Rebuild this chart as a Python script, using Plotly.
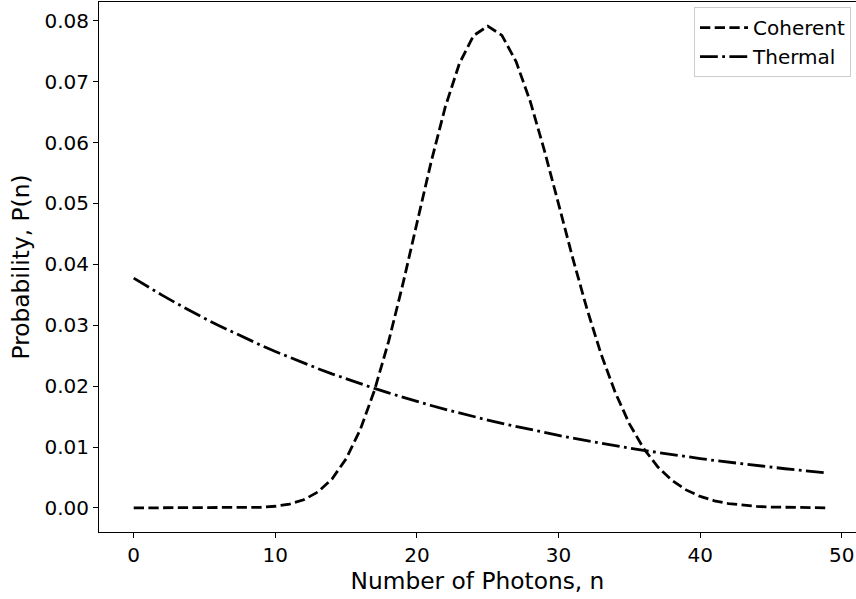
import plotly.graph_objects as go

n_photons = list(range(50))

coherent = [
    0.0, 0.0, 0.0, 0.0, 0.0000001, 0.0000008, 0.0000032, 0.0000117, 0.0000374, 0.000106,
    0.000270, 0.000626, 0.001329, 0.002607, 0.004749, 0.008074, 0.012868, 0.019302, 0.027344, 0.036699,
    0.046791, 0.056818, 0.065857, 0.073016, 0.077580, 0.079132, 0.077610, 0.073298, 0.066753, 0.058697,
    0.049892, 0.041040, 0.032704, 0.025271, 0.018953, 0.013809, 0.009781, 0.006741, 0.004524, 0.002958,
    0.001886, 0.001173, 0.000712, 0.000422, 0.000245, 0.000139, 0.0000770, 0.0000418, 0.0000222, 0.0000116,
]

thermal = [
    0.037736, 0.036312, 0.034942, 0.033623, 0.032354, 0.031134, 0.029959, 0.028828, 0.027740, 0.026693,
    0.025686, 0.024717, 0.023784, 0.022887, 0.022023, 0.021192, 0.020392, 0.019623, 0.018882, 0.018170,
    0.017484, 0.016824, 0.016190, 0.015579, 0.014991, 0.014425, 0.013881, 0.013357, 0.012853, 0.012368,
    0.011901, 0.011452, 0.011020, 0.010604, 0.010204, 0.009819, 0.009448, 0.009092, 0.008749, 0.008418,
    0.008101, 0.007795, 0.007501, 0.007218, 0.006945, 0.006683, 0.006431, 0.006188, 0.005955, 0.005730,
]

series_names = ["Coherent", "Thermal"]
x_title = "Number of Photons, n"
y_title = "Probability, P(n)"

fig = go.Figure()
fig.add_trace(go.Scatter(
    x=n_photons, y=coherent, mode="lines", name=series_names[0],
    line=dict(color="black", width=2.8, dash="10.3px,4.4px"),
))
fig.add_trace(go.Scatter(
    x=n_photons, y=thermal, mode="lines", name=series_names[1],
    line=dict(color="black", width=2.8, dash="17.8px,4.4px,2.8px,4.4px"),
))

font_family = "DejaVu Sans"
tick_size = 20
title_size = 23.3

fig.update_layout(
    width=856, height=599,
    margin=dict(l=99.4, r=0, t=1.5, b=66.6, pad=0),
    plot_bgcolor="white", paper_bgcolor="white",
    font=dict(family=font_family, color="black", size=tick_size),
    showlegend=True,
    legend=dict(
        x=0.9934, y=0.9905, xanchor="right", yanchor="top",
        bgcolor="rgba(255,255,255,0.8)", bordercolor="#cccccc", borderwidth=1,
        font=dict(family=font_family, size=tick_size, color="black"),
        itemwidth=48, tracegroupgap=0,
    ),
    xaxis=dict(
        range=[-2.45, 51.0], dtick=10, tick0=0,
        showgrid=False, zeroline=False,
        showline=True, linecolor="black", linewidth=1.1, mirror=True,
        ticks="outside", ticklen=5, tickwidth=1.1, tickcolor="black",
        tickfont=dict(family=font_family, size=tick_size),
        title=dict(text=x_title, font=dict(family=font_family, size=title_size), standoff=6),
    ),
    yaxis=dict(
        range=[-0.003957, 0.08309], dtick=0.01, tick0=0, tickformat=".2f",
        showgrid=False, zeroline=False,
        showline=True, linecolor="black", linewidth=1.1, mirror=False,
        ticks="outside", ticklen=5, tickwidth=1.1, tickcolor="black",
        tickfont=dict(family=font_family, size=tick_size),
        title=dict(text=y_title, font=dict(family=font_family, size=title_size), standoff=8),
    ),
)

fig.write_html("out.html")
